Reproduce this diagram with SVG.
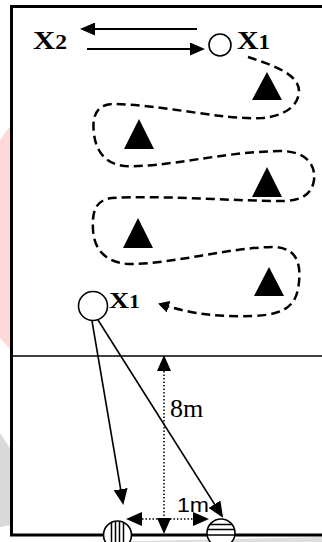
<svg xmlns="http://www.w3.org/2000/svg" width="322" height="542" viewBox="0 0 322 542">
<style>
.bd{fill:none;stroke:#000;stroke-width:3}
.ln{fill:none;stroke:#000;stroke-width:1.6}
.ar{fill:none;stroke:#000;stroke-width:2}
.dash{fill:none;stroke:#000;stroke-width:2.5;stroke-dasharray:9 5}
.dot{fill:none;stroke:#000;stroke-width:1.5;stroke-dasharray:1.5 2}
.tri{fill:#000}
.ring{fill:#fff;stroke:#000;stroke-width:1.6}
.xl{font-family:"Liberation Serif","Times New Roman",serif;font-weight:bold}
.num{font-family:"Liberation Serif","Times New Roman",serif}
.sans{font-family:"Liberation Sans",Arial,sans-serif}
</style>
<defs>
<marker id="ah" viewBox="0 0 15 13" markerWidth="15" markerHeight="13" refX="13" refY="6.5" orient="auto-start-reverse" markerUnits="userSpaceOnUse">
<path d="M0,0 L15,6.5 L0,13 z" fill="#000"/>
</marker>
<marker id="ah2" viewBox="0 0 16 14" markerWidth="16" markerHeight="14" refX="14" refY="7" orient="auto-start-reverse" markerUnits="userSpaceOnUse">
<path d="M0,0 L16,7 L0,14 z" fill="#000"/>
</marker>
<marker id="ahs" viewBox="0 0 11 12" markerWidth="11" markerHeight="12" refX="9" refY="6" orient="auto" markerUnits="userSpaceOnUse">
<path d="M0,0 L11,6 L0,12 z" fill="#000"/>
</marker>
<clipPath id="cL"><circle cx="117.5" cy="535" r="14"/></clipPath>
<clipPath id="cR"><circle cx="221" cy="533" r="14"/></clipPath>
</defs>

<g id="watermark">
<polygon points="0,140 11,125 11,350 0,338" fill="#ffd9d9"/>
<polygon points="0,433 11,450 11,525 0,527" fill="#d9d9d9"/>
<polygon points="90,542 322,537 322,542" fill="#dedede"/>
</g>

<g id="field">
<rect x="11.5" y="6.5" width="320" height="528.5" fill="#fff"/>
<path class="bd" d="M330,6.5 H11.5 V535 H330"/>
<line x1="11.5" y1="356" x2="322" y2="356" stroke="#000" stroke-width="1.5"/>
</g>

<g id="connectors">
<line class="ar" x1="197" y1="29" x2="82" y2="29" marker-end="url(#ah)"/>
<line class="ar" x1="87" y1="49" x2="203" y2="49" marker-end="url(#ah)"/>
<path class="dash" marker-end="url(#ahs)" d="M248,57 C272,65 300,74 299,92 C298,106 285,116 262,118 C220,120 160,104 112,104 C95,105 92,118 94,134 C96,150 104,164 125,166 C165,168 220,152 280,151 C303,151 316,162 314,180 C312,194 302,200 285,201 C230,201 160,195 112,198 C95,200 92,212 93,230 C94,248 104,262 128,264 C175,264 225,248 272,247 C296,247 301,262 299,282 C297,302 290,314 255,316 C220,317 195,315 160,304"/>
<line class="ln" x1="92" y1="321" x2="123" y2="503" marker-end="url(#ah2)"/>
<line class="ln" x1="98" y1="320" x2="222" y2="516" marker-end="url(#ah2)"/>
<line class="dot" x1="164" y1="357" x2="164" y2="532" marker-start="url(#ah2)" marker-end="url(#ah2)"/>
<line class="dot" x1="128" y1="519" x2="207" y2="519" marker-start="url(#ah2)" marker-end="url(#ah2)"/>
</g>

<g id="cones">
<polygon class="tri" points="267,72 282,100 252,100"/>
<polygon class="tri" points="139,119 154,149 124,149"/>
<polygon class="tri" points="267,167 282,197 252,197"/>
<polygon class="tri" points="138,218 153,248 123,248"/>
<polygon class="tri" points="269,267 284,296 254,296"/>
</g>

<g id="player-top">
<circle class="ring" cx="220" cy="45" r="11"/>
<text class="xl" x="237" y="49" font-size="26" textLength="33" lengthAdjust="spacingAndGlyphs">X<tspan font-size="20">1</tspan></text>
</g>
<g id="player-x2">
<text class="xl" x="33" y="49" font-size="26" textLength="34" lengthAdjust="spacingAndGlyphs">X<tspan font-size="20">2</tspan></text>
</g>
<g id="player-low">
<circle class="ring" cx="93" cy="306" r="14.5"/>
<text class="xl" x="109" y="308" font-size="23" textLength="31" lengthAdjust="spacingAndGlyphs">X<tspan font-size="18">1</tspan></text>
</g>

<g id="label-8m"><text class="num" x="170" y="417" font-size="26">8m</text></g>
<g id="label-1m"><text class="sans" x="177" y="512" font-size="21" textLength="32" lengthAdjust="spacingAndGlyphs">1m</text></g>

<g id="ball-left">
<circle cx="117.5" cy="535" r="14" fill="#fff"/>
<g clip-path="url(#cL)" stroke="#000" stroke-width="1.5">
<line x1="111.5" y1="518" x2="111.5" y2="550"/>
<line x1="115.5" y1="518" x2="115.5" y2="550"/>
<line x1="119.5" y1="518" x2="119.5" y2="550"/>
<line x1="123.5" y1="518" x2="123.5" y2="550"/>
</g>
<circle cx="117.5" cy="535" r="14" fill="none" stroke="#000" stroke-width="1.6"/>
</g>
<g id="ball-right">
<circle cx="221" cy="533" r="14" fill="#fff"/>
<g clip-path="url(#cR)" stroke="#000" stroke-width="1.5">
<line x1="205" y1="524.5" x2="237" y2="524.5"/>
<line x1="205" y1="529.5" x2="237" y2="529.5"/>
<line x1="205" y1="535" x2="237" y2="535"/>
</g>
<circle cx="221" cy="533" r="14" fill="none" stroke="#000" stroke-width="1.6"/>
</g>
</svg>
